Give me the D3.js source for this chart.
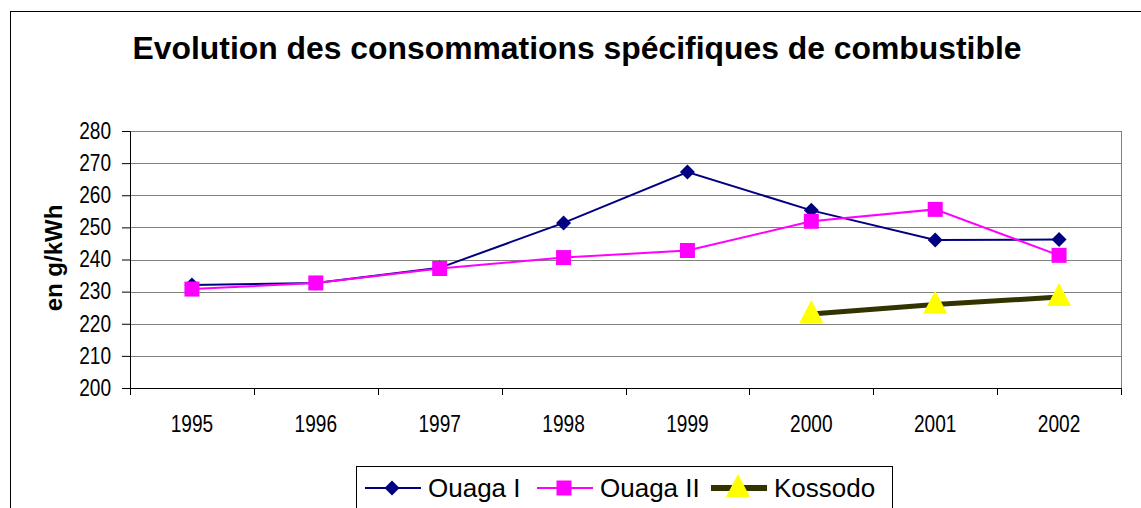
<!DOCTYPE html>
<html>
<head>
<meta charset="utf-8">
<script src="https://cdn.jsdelivr.net/npm/d3@7"></script>
<style>
  body { margin: 0; background: #fff; }
  svg { font-family: "Liberation Sans", Arial, sans-serif; }
</style>
</head>
<body>
<div id="chart"></div>
<script>
var years = ["1995", "1996", "1997", "1998", "1999", "2000", "2001", "2002"];
var ouaga1 = [232.1, 232.7, 237.4, 251.4, 267.2, 255.3, 246.1, 246.2];
var ouaga2 = [230.8, 232.7, 237.2, 240.6, 242.8, 251.9, 255.6, 241.3];
var kossodo = [null, null, null, null, null, 223.0, 226.0, 228.3];
var yTicks = [200, 210, 220, 230, 240, 250, 260, 270, 280];

var svgWidth = 1141;
var svgHeight = 508;
var margin = { top: 131, right: 20, bottom: 120, left: 130 };
var width = 1121 - margin.left;
var height = 388 - margin.top;
var narrow = 0.83; // tick labels look condensed

var svg = d3.select("#chart")
  .append("svg")
  .attr("width", svgWidth)
  .attr("height", svgHeight);

// outer chart border
svg.append("rect")
  .attr("x", 10.5).attr("y", 11.5)
  .attr("width", 1200).attr("height", 600)
  .attr("fill", "none").attr("stroke", "#000").attr("stroke-width", 1);

svg.append("text")
  .attr("x", 577).attr("y", 59)
  .attr("text-anchor", "middle")
  .attr("font-size", 31).attr("font-weight", "bold")
  .attr("textLength", 889).attr("lengthAdjust", "spacingAndGlyphs")
  .text("Evolution des consommations spécifiques de combustible");

var chart = svg.append("g")
  .attr("transform", `translate(${margin.left}, ${margin.top})`);

var scaleX = d3.scaleBand().domain(years).range([0, width]);
var scaleY = d3.scaleLinear().domain([200, 280]).range([height, 0]);

// grid lines
chart.append("g")
  .selectAll("line")
  .data(yTicks.slice(1))
  .enter()
  .append("line")
  .attr("x1", 0).attr("x2", width)
  .attr("y1", d => Math.round(scaleY(d)) + 0.5)
  .attr("y2", d => Math.round(scaleY(d)) + 0.5)
  .attr("stroke", "#808080").attr("stroke-width", 1);

// right border of plot area
chart.append("line")
  .attr("x1", width + 0.5).attr("x2", width + 0.5)
  .attr("y1", 0).attr("y2", height)
  .attr("stroke", "#808080");

var yaxis = d3.axisLeft(scaleY).tickValues(yTicks).tickSize(8).tickPadding(11);
var chartLeft = chart.append("g").call(yaxis);
chartLeft.attr("font-family", null);
chartLeft.select(".domain").attr("stroke", "#000");
chartLeft.selectAll("text")
  .attr("font-size", 23).attr("fill", "#000")
  .attr("x", -19 / narrow)
  .attr("transform", `scale(${narrow}, 1)`);

var xaxis = d3.axisBottom(scaleX).tickSize(0).tickPadding(28);
var chartBottom = chart.append("g")
  .attr("transform", `translate(0, ${height})`)
  .call(xaxis);
chartBottom.attr("font-family", null);
chartBottom.select(".domain").attr("stroke", "#000");
chartBottom.selectAll("text")
  .attr("font-size", 23).attr("fill", "#000")
  .attr("transform", `scale(${narrow}, 1)`);
// category boundary ticks
chartBottom.append("g")
  .selectAll("line")
  .data(years.concat(["end"]))
  .enter()
  .append("line")
  .attr("x1", (d, i) => Math.round(i * scaleX.step()) + 0.5)
  .attr("x2", (d, i) => Math.round(i * scaleX.step()) + 0.5)
  .attr("y1", 0).attr("y2", 7)
  .attr("stroke", "#000");

chart.append("text")
  .attr("transform", "rotate(-90)")
  .attr("x", -(258 - margin.top)).attr("y", -68)
  .attr("text-anchor", "middle")
  .attr("font-size", 24).attr("font-weight", "bold")
  .text("en g/kWh");

var cx = d => scaleX(d) + scaleX.bandwidth() / 2;

function drawSeries(values, color, strokeW, marker, markerColor) {
  var pts = years.map((y, i) => ({ year: y, v: values[i] })).filter(d => d.v !== null);
  var line = d3.line().x(d => cx(d.year)).y(d => scaleY(d.v));
  chart.append("path")
    .datum(pts)
    .attr("d", line)
    .attr("fill", "none")
    .attr("stroke", color)
    .attr("stroke-width", strokeW);
  chart.append("g")
    .selectAll("path")
    .data(pts)
    .enter()
    .append("path")
    .attr("d", marker)
    .attr("transform", d => `translate(${cx(d.year)}, ${scaleY(d.v)})`)
    .attr("fill", markerColor);
}

var diamond = "M0,-7.5L7.5,0L0,7.5L-7.5,0Z";
var square = "M-7.5,-7.5H7.5V7.5H-7.5Z";
var triangle = "M0,-14L12,9H-12Z";

drawSeries(ouaga1, "#000080", 2, diamond, "#000080");
drawSeries(ouaga2, "#FF00FF", 2, square, "#FF00FF");
drawSeries(kossodo, "#333300", 5, triangle, "#FFFF00");

// legend
var legend = svg.append("g");
legend.append("rect")
  .attr("x", 356.5).attr("y", 466.5)
  .attr("width", 536).attr("height", 60)
  .attr("fill", "#fff").attr("stroke", "#000");

var legendItems = [
  { label: "Ouaga I", x: 365, color: "#000080", w: 2, marker: diamond, mc: "#000080" },
  { label: "Ouaga II", x: 537, color: "#FF00FF", w: 2, marker: square, mc: "#FF00FF" },
  { label: "Kossodo", x: 711, color: "#333300", w: 6, marker: triangle, mc: "#FFFF00" }
];
legendItems.forEach(function(it) {
  var g = legend.append("g").attr("transform", `translate(${it.x}, 488)`);
  g.append("line").attr("x1", 0).attr("x2", 56).attr("y1", 0).attr("y2", 0)
    .attr("stroke", it.color).attr("stroke-width", it.w);
  g.append("path").attr("d", it.marker).attr("fill", it.mc)
    .attr("transform", "translate(27, 0)");
  g.append("text").attr("x", 63).attr("y", 9)
    .attr("font-size", 26).text(it.label);
});
</script>
</body>
</html>
